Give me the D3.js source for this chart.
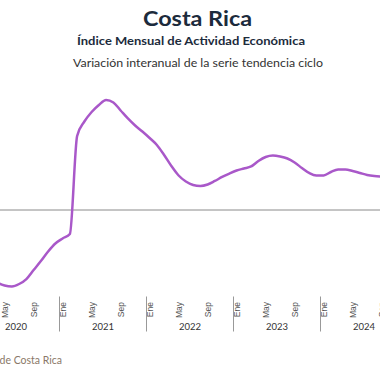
<!DOCTYPE html>
<html><head><meta charset="utf-8">
<script src="https://cdn.jsdelivr.net/npm/d3@7"></script>
<style>html,body{margin:0;padding:0;background:#fff;overflow:hidden}</style>
</head><body>
<div id="chart"></div>
<script>
const years = [2020, 2021, 2022, 2023, 2024];
const monthNames = ["Ene","Feb","Mar","Abr","May","Jun","Jul","Ago","Sep","Oct","Nov","Dic"];
const labelMonths = ["Ene","May","Sep"];
// Variación interanual (%) serie tendencia ciclo, Ene 2020 - Sep 2024
const values = [
  -4.4, -6.5, -8.25, -9.06, -9.44, -9.56, -9.25, -8.63, -7.5, -6.38, -5.19, -4.19,
  -3.56, -3.0, 9.25, 11.06, 12.25, 13.13, 13.75, 13.44, 12.44, 11.44, 10.56, 9.81,
  9.0, 8.13, 6.88, 5.5, 4.31, 3.56, 3.13, 3.0, 3.19, 3.63, 4.13, 4.56,
  4.94, 5.19, 5.44, 6.13, 6.63, 6.81, 6.69, 6.44, 5.94, 5.25, 4.63, 4.31,
  4.31, 4.75, 5.06, 5.06, 4.88, 4.63, 4.38, 4.25, 4.19
];
const title = "Costa Rica";
const subtitle = "Índice Mensual de Actividad Económica";
const subtitle2 = "Variación interanual de la serie tendencia ciclo";
const source = "Fuente: Banco Central de Costa Rica";

const W = 380, H = 380;
const svg = d3.select("#chart").append("svg").attr("width", W).attr("height", H)
  .style("font-family", "Lato, 'DejaVu Sans', sans-serif");

const nMonths = years.length * 12;
const x = d3.scaleLinear().domain([-0.5, nMonths - 0.5]).range([-28, 407]);
const y = d3.scaleLinear().domain([-10, 15]).range([290, 90]);

// titles
svg.append("text").attr("x", 197.5).attr("y", 26).attr("text-anchor", "middle")
  .attr("font-size", 21).attr("font-weight", "bold").attr("fill", "#1c2b3c")
  .attr("textLength", 109).attr("lengthAdjust", "spacingAndGlyphs").text(title);
svg.append("text").attr("x", 191).attr("y", 45).attr("text-anchor", "middle")
  .attr("font-size", 12).attr("font-weight", "bold").attr("fill", "#1c2b3c")
  .attr("textLength", 228).attr("lengthAdjust", "spacingAndGlyphs").text(subtitle);
svg.append("text").attr("x", 198).attr("y", 66.5).attr("text-anchor", "middle")
  .attr("font-size", 11.2).attr("fill", "#333")
  .attr("textLength", 250).attr("lengthAdjust", "spacingAndGlyphs").text(subtitle2);

// zero line
svg.append("line").attr("x1", 0).attr("x2", W).attr("y1", y(0)).attr("y2", y(0))
  .attr("stroke", "#8a8a8a").attr("stroke-width", 1);

// series
const line = d3.line().x((d, i) => x(i)).y(d => y(d)).curve(d3.curveMonotoneX);
svg.append("path").datum(values).attr("d", line).attr("fill", "none")
  .attr("stroke", "#a958c9").attr("stroke-width", 2.5).attr("stroke-linejoin", "round");

// month labels axis
const monthTicks = [];
years.forEach((yr, yi) => labelMonths.forEach(m => monthTicks.push(yi * 12 + monthNames.indexOf(m))));
const mAxis = d3.axisBottom(x).tickValues(monthTicks).tickSize(0)
  .tickFormat(i => monthNames[i % 12]);
const gm = svg.append("g").attr("transform", "translate(0,302)").call(mAxis);
gm.select(".domain").remove();
gm.selectAll("text").attr("transform", "rotate(-90)").attr("text-anchor", "end")
  .attr("x", 0).attr("y", 0).attr("dx", 0).attr("dy", "0.35em")
  .attr("font-size", 8.5).attr("fill", "#555").style("font-family", "'Liberation Sans', Arial, sans-serif");

// year separators
const sepAxis = d3.axisBottom(x).tickValues(years.map((yr, yi) => yi * 12 - 0.5)).tickSize(35).tickFormat("");
const gs = svg.append("g").attr("transform", "translate(0,296.5)").call(sepAxis);
gs.select(".domain").remove();
gs.selectAll("line").attr("stroke", "#999");

// year labels
const yAxis = d3.axisBottom(x).tickValues(years.map((yr, yi) => yi * 12 + 5.5)).tickSize(0)
  .tickFormat((d, i) => years[i]);
const gy = svg.append("g").attr("transform", "translate(0,322)").call(yAxis);
gy.select(".domain").remove();
gy.selectAll("text").attr("dy", 0).attr("y", 8).attr("font-size", 9.5).attr("fill", "#333")
  .style("font-family", "Lato, sans-serif");

// source
svg.append("text").attr("x", 62).attr("y", 364).attr("text-anchor", "end")
  .attr("font-size", 10.5).attr("fill", "#8a7868").text(source);
</script>
</body></html>
